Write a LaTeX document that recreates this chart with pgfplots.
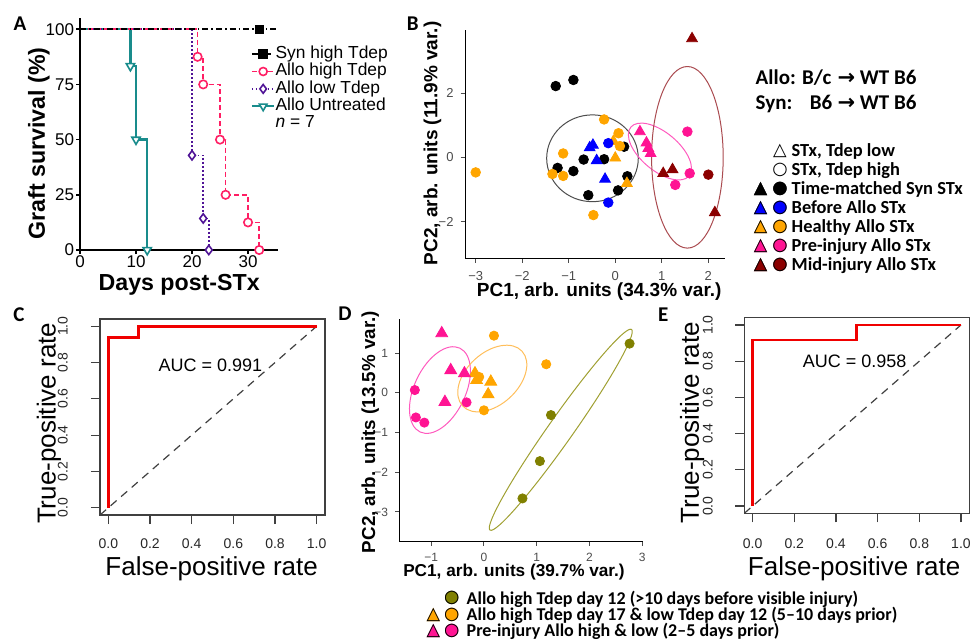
\documentclass[border=0pt]{standalone}
\usepackage{pgfplots}
\pgfplotsset{compat=1.18}
\usepackage{fontspec}
\setmainfont{Liberation Sans}
\newfontfamily\carlito{Carlito}
\newfontfamily\dejavu{DejaVu Sans}
\newcommand\fs[1]{\fontsize{#1}{#1}\selectfont}
\definecolor{apink}{RGB}{255,30,100}
\definecolor{apurp}{RGB}{80,20,150}
\definecolor{ateal}{RGB}{25,140,140}
\definecolor{bblue}{RGB}{0,0,255}
\definecolor{borange}{RGB}{255,165,0}
\definecolor{bpink}{RGB}{255,20,147}
\definecolor{bdred}{RGB}{139,0,0}
\definecolor{egrey}{RGB}{77,77,77}
\definecolor{epink}{RGB}{255,90,190}
\definecolor{edred}{RGB}{170,75,80}
\definecolor{dolive}{RGB}{128,128,0}
\definecolor{eolive}{RGB}{160,160,50}
\definecolor{eorange}{RGB}{255,190,90}
\definecolor{rocred}{RGB}{240,0,0}
\newcommand\tri[1]{\makebox[0pt]{\textcolor{#1}{▲}}\makebox[0pt]{△}}
\newcommand\cir[1]{\makebox[0pt]{\textcolor{#1}{●}}\makebox[0pt]{○}}
\pgfplotsset{
  bc/.style={only marks, mark=*, mark size=2.4pt, color=#1},
  bt/.style={only marks, mark=triangle*, mark size=3.1pt, color=#1},
  dc/.style={only marks, mark=*, mark size=2.3pt, color=#1},
  dt/.style={only marks, mark=triangle*, mark size=3.4pt, color=#1},
}
\begin{document}
\begin{tikzpicture}
\path[use as bounding box] (0,0) rectangle (485pt,-321.5pt);

% ---------------- Panel A ----------------
\begin{axis}[
  at={(40pt,-125pt)}, anchor=south west, scale only axis,
  width=98.85pt, height=115.92pt,
  xmin=0, xmax=35.3, ymin=0, ymax=105,
  axis x line*=bottom, axis y line*=left,
  axis line style={-, black, line width=0.85pt},
  xtick={0,10,20,30}, xticklabels={0,10,20,30},
  ytick={0,25,50,75,100}, yticklabels={0,25,50,75,100},
  tick align=outside, major tick length=2pt,
  tick style={black, line width=0.85pt},
  tick label style={font=\fs{8.5}, inner sep=0.8pt},
  clip=false,
  legend style={draw=none, fill=none, at={(0.8635,0.8825)}, anchor=north west,
    inner sep=0pt, outer sep=0pt, row sep=0pt, font=\fs{8.7},
    nodes={inner sep=0pt, text height=6.5pt, text depth=2.2pt},
    /tikz/every even column/.append style={column sep=3.4pt}},
  legend cell align=left,
  legend image code/.code={\draw[mark repeat=2,mark phase=2] plot coordinates {(0pt,0pt) (5.65pt,0pt) (11.3pt,0pt)};},
]
\addplot[ateal, line width=1.15pt, forget plot] coordinates {(0,100) (9,100) (9,83.33) (10,83.33) (10,50) (12,50) (12,0)};
\addplot[ateal, only marks, mark=triangle*, mark size=2.4pt, mark options={rotate=180, fill=white, line width=0.8pt}, forget plot] coordinates {(9,83.33) (10,50) (12,0)};
\addplot[apurp, line width=0.8pt, dash pattern=on 0.8pt off 1.2pt, forget plot] coordinates {(0,100) (20,100) (20,42.86) (22,42.86) (22,14.29) (23,14.29) (23,0)};
\addplot[apurp, only marks, mark=diamond*, mark size=2.3pt, mark options={fill=white, line width=0.8pt}, forget plot] coordinates {(20,42.86) (22,14.29) (23,0)};
\addplot[apink, line width=0.75pt, dash pattern=on 2.5pt off 1.5pt, forget plot] coordinates {(0,100) (21,100) (21,87.5) (22,87.5) (22,75) (25,75) (25,50) (26,50) (26,25) (30,25) (30,12.5) (32,12.5) (32,0)};
\addplot[apink, only marks, mark=*, mark size=2.1pt, mark options={fill=white, line width=0.8pt}, forget plot] coordinates {(21,87.5) (22,75) (25,50) (26,25) (30,12.5) (32,0)};
\addplot[black, line width=0.75pt, dash pattern=on 3pt off 1.5pt on 0.8pt off 1.5pt, forget plot] coordinates {(0,100) (35.3,100)};
\addplot[black, only marks, mark=square*, mark size=2pt, forget plot] coordinates {(32,100)};
\addlegendimage{black, line width=0.75pt, dash pattern=on 3pt off 1.5pt on 0.8pt off 1.5pt, mark=square*, mark size=2pt, mark options={solid}}
\addlegendentry{Syn high Tdep}
\addlegendimage{apink, line width=0.75pt, dash pattern=on 2.5pt off 1.5pt, mark=*, mark size=2pt, mark options={solid, fill=white, line width=0.8pt}}
\addlegendentry{Allo high Tdep}
\addlegendimage{apurp, line width=0.8pt, dash pattern=on 0.8pt off 1.2pt, mark=diamond*, mark size=2.2pt, mark options={solid, fill=white, line width=0.8pt}}
\addlegendentry{Allo low Tdep}
\addlegendimage{ateal, line width=1.15pt, mark=triangle*, mark size=2.2pt, mark options={solid, rotate=180, fill=white, line width=0.8pt}}
\addlegendentry{Allo Untreated}
\addlegendimage{empty legend}
\addlegendentry{\textit{n} = 7}
\end{axis}

% ---------------- Panel B ----------------
\begin{axis}[
  at={(232.5pt,-129.2pt)}, anchor=south west, scale only axis,
  width=129.8pt, height=114.25pt,
  xmin=-3.23, xmax=2.35, ymin=-3.15, ymax=3.97,
  axis x line*=bottom, axis y line*=left,
  axis line style={-, black, line width=0.5pt},
  xtick={-3,-2,-1,0,1,2}, xticklabels={−3,−2,−1,0,1,2},
  ytick={-2,0,2}, yticklabels={−2,0,2},
  tick align=outside, major tick length=2.2pt,
  tick style={black!70, line width=0.5pt},
  tick label style={font=\fs{6.5}, text=black!70},
  xticklabel style={yshift=-1pt},
  clip=false,
]
\addplot[bc=black] coordinates {(-1.28,2.22) (-0.90,2.41) (-1.24,-0.33) (-0.90,-0.43) (-0.68,-0.07) (-0.58,-1.18) (-0.24,-0.06) (0.06,-1.03) (0.26,-0.59) (0.19,0.33)};
\addplot[bc=borange] coordinates {(-3.0,-0.47) (-0.24,1.18) (-1.12,0.12) (-1.35,-0.52) (-1.12,-0.58) (-0.47,-1.80) (0.07,0.75) (0.10,0.35)};
\addplot[bt=borange] coordinates {(-0.04,0.50) (0.0,-0.02) (0.25,-0.81)};
\addplot[bc=bblue] coordinates {(-0.15,0.44) (-0.15,-1.41)};
\addplot[bt=bblue] coordinates {(-0.55,0.30) (-0.48,0.38) (-0.40,-0.10) (-0.22,-0.68)};
\addplot[bc=bpink] coordinates {(1.55,0.80) (1.60,-0.50) (1.29,-0.86)};
\addplot[bt=bpink] coordinates {(0.53,0.80) (0.67,0.45) (0.71,0.28) (0.76,0.12)};
\addplot[bc=bdred] coordinates {(2.0,-0.54)};
\addplot[bt=bdred] coordinates {(1.65,3.70) (1.03,-0.50) (1.23,-0.38) (2.14,-1.72)};
\draw[egrey, line width=0.5pt] (axis cs:-0.49,-0.03) ellipse [x radius=22.9pt, y radius=21.7pt];
\draw[epink, line width=0.5pt] (axis cs:0.96,0.18) ellipse [x radius=19pt, y radius=9.5pt, rotate=-40];
\draw[edred, line width=0.5pt] (axis cs:1.55,0.0) ellipse [x radius=17.9pt, y radius=45.4pt];
\end{axis}

% ---------------- Panel C ----------------
\begin{axis}[
  at={(50pt,-257.5pt)}, anchor=south west, scale only axis,
  width=112.5pt, height=98pt,
  xmin=-0.04, xmax=1.04, ymin=-0.04, ymax=1.04,
  axis line style={black!75, line width=0.6pt},
  xtick={0,0.2,0.4,0.6,0.8,1}, xticklabels={0.0,0.2,0.4,0.6,0.8,1.0},
  ytick={0,0.2,0.4,0.6,0.8,1}, yticklabels={0.0,0.2,0.4,0.6,0.8,1.0},
  xtick pos=left, ytick pos=left,
  tick align=outside, major tick length=4.5pt,
  tick style={black!75, line width=0.6pt},
  tick label style={font=\fs{7}, text=black!85},
  xticklabel style={anchor=center, yshift=-9.6pt},
  yticklabel style={anchor=center, xshift=-14.15pt, rotate=90},
  clip=false,
]
\addplot[black!75, line width=0.6pt, dash pattern=on 4pt off 3pt] coordinates {(-0.04,-0.04) (1,1)};
\addplot[rocred, line width=1.4pt] coordinates {(0,0) (0,0.9375) (0.143,0.9375) (0.143,1) (1,1)};
\node[font=\fs{9}] at (axis cs:0.49,0.786) {AUC = 0.991};
\end{axis}

% ---------------- Panel D ----------------
\begin{axis}[
  at={(199.5pt,-270.85pt)}, anchor=south west, scale only axis,
  width=122.15pt, height=111.35pt,
  xmin=-1.61, xmax=3.02, ymin=-3.75, ymax=1.86,
  axis x line*=bottom, axis y line*=left,
  axis line style={-, black, line width=0.5pt},
  xtick={-1,0,1,2,3}, xticklabels={−1,0,1,2,3},
  ytick={-3,-2,-1,0,1}, yticklabels={−3,−2,−1,0,1},
  tick align=outside, major tick length=2pt,
  tick style={black!70, line width=0.5pt},
  tick label style={font=\fs{6}, text=black!70},
  clip=false,
]
\addplot[dc=dolive] coordinates {(2.76,1.24) (1.27,-0.56) (1.06,-1.72) (0.73,-2.66)};
\addplot[dc=borange] coordinates {(0.19,1.44) (1.18,0.72) (-0.09,0.40) (0.0,-0.44)};
\addplot[dt=borange] coordinates {(-0.17,0.49) (-0.14,0.32) (0.13,0.28) (0.08,-0.04)};
\addplot[dc=bpink] coordinates {(-1.31,0.07) (-1.29,-0.62) (-1.13,-0.75) (-0.33,-0.24)};
\addplot[dt=bpink] coordinates {(-0.80,1.50) (-0.63,0.57) (-0.37,0.49) (-0.74,-0.23)};
\draw[epink, line width=0.5pt] (axis cs:-0.834,0.07) ellipse [x radius=23.2pt, y radius=12.8pt, rotate=64.7];
\draw[eorange, line width=0.5pt] (axis cs:0.158,0.36) ellipse [x radius=20.2pt, y radius=12.95pt, rotate=42.6];
\draw[eolive, line width=0.5pt] (axis cs:1.456,-0.93) ellipse [x radius=61.4pt, y radius=6.2pt, rotate=54.8];
\end{axis}

% ---------------- Panel E ----------------
\begin{axis}[
  at={(372.15pt,-256.65pt)}, anchor=south west, scale only axis,
  width=112.5pt, height=97.8pt,
  xmin=-0.04, xmax=1.04, ymin=-0.04, ymax=1.04,
  axis line style={black!75, line width=0.6pt},
  xtick={0,0.2,0.4,0.6,0.8,1}, xticklabels={0.0,0.2,0.4,0.6,0.8,1.0},
  ytick={0,0.2,0.4,0.6,0.8,1}, yticklabels={0.0,0.2,0.4,0.6,0.8,1.0},
  xtick pos=left, ytick pos=left,
  tick align=outside, major tick length=4.5pt,
  tick style={black!75, line width=0.6pt},
  tick label style={font=\fs{7}, text=black!85},
  xticklabel style={anchor=center, yshift=-10.5pt},
  yticklabel style={anchor=center, xshift=-13.8pt, rotate=90},
  clip=false,
]
\addplot[black!75, line width=0.6pt, dash pattern=on 4pt off 3pt] coordinates {(-0.04,-0.04) (1,1)};
\addplot[rocred, line width=1.4pt] coordinates {(0,0) (0,0.9167) (0.5,0.9167) (0.5,1) (1,1)};
\node[font=\fs{9}] at (axis cs:0.49,0.80) {AUC = 0.958};
\end{axis}

% ---------------- Labels ----------------
\begin{scope}[every node/.style={inner sep=0pt, outer sep=0pt}]
% panel letters
\node[font=\carlito\bfseries\fs{10.5}] at (10pt,-11.75pt) {A};
\node[font=\carlito\bfseries\fs{10.5}] at (206.35pt,-11.65pt) {B};
\node[font=\carlito\bfseries\fs{10.5}] at (9.5pt,-157.5pt) {C};
\node[font=\carlito\bfseries\fs{10.5}] at (172.5pt,-156.65pt) {D};
\node[font=\carlito\bfseries\fs{10.5}] at (331.65pt,-157.5pt) {E};
% A labels
\node[font=\bfseries\fs{11.6}, anchor=base, rotate=90] at (22.5pt,-71.65pt) {Graft survival (\%)};
\node[font=\bfseries\fs{11.6}, anchor=base] at (89.6pt,-145pt) {Days post-STx};
% B labels
\node[font=\bfseries\fs{9.5}, anchor=base] at (299.6pt,-148pt) {PC1, arb. units (34.3\% var.)};
\node[font=\bfseries\fs{9.5}, anchor=base, rotate=90] at (218.65pt,-71.65pt) {PC2, arb. units (11.9\% var.)};
% B legend header
\node[font=\carlito\bfseries\fs{10.5}, anchor=base west] at (377.85pt,-42.4pt) {Allo: B/c};
\node[font=\carlito\bfseries\fs{10.5}, anchor=base west] at (377.85pt,-54.85pt) {Syn:};
\node[font=\carlito\bfseries\fs{10.5}, anchor=base east] at (416.15pt,-54.85pt) {B6};
\node[font=\carlito\bfseries\fs{10.5}, anchor=base west] at (418.75pt,-42.4pt) {{\dejavu\bfseries →} WT B6};
\node[font=\carlito\bfseries\fs{10.5}, anchor=base west] at (418.75pt,-54.85pt) {{\dejavu\bfseries →} WT B6};
% B legend rows
\begin{scope}[every node/.append style={font=\carlito\bfseries\fs{9.2}, anchor=base west}]
\node at (395.85pt,-78.4pt) {STx, Tdep low};
\node at (395.85pt,-87.9pt) {STx, Tdep high};
\node at (395.85pt,-97.4pt) {Time-matched Syn STx};
\node at (395.85pt,-106.75pt) {Before Allo STx};
\node at (395.85pt,-116.25pt) {Healthy Allo STx};
\node at (395.85pt,-125.75pt) {Pre-injury Allo STx};
\node at (395.85pt,-135.4pt) {Mid-injury Allo STx};
\end{scope}
\begin{scope}[every node/.append style={font=\dejavu\fs{8.8}}]
\node at (390pt,-75.5pt) {\tri{white}};
\node at (390pt,-85pt) {\cir{white}};
\node at (380.35pt,-94.5pt) {\tri{black}};
\node at (390pt,-94.5pt) {\cir{black}};
\node at (380.35pt,-103.85pt) {\tri{bblue}};
\node at (390pt,-103.85pt) {\cir{bblue}};
\node at (380.35pt,-113.35pt) {\tri{borange}};
\node at (390pt,-113.35pt) {\cir{borange}};
\node at (380.35pt,-122.85pt) {\tri{bpink}};
\node at (390pt,-122.85pt) {\cir{bpink}};
\node at (380.35pt,-132.5pt) {\tri{bdred}};
\node at (390pt,-132.5pt) {\cir{bdred}};
\end{scope}
% C labels
\node[font=\fs{13}, rotate=90] at (24.4pt,-211.65pt) {True-positive rate};
\node[font=\fs{13}] at (105.85pt,-284.15pt) {False-positive rate};
% D labels
\node[font=\bfseries\fs{8.6}, anchor=base] at (257pt,-288.35pt) {PC1, arb. units (39.7\% var.)};
\node[font=\bfseries\fs{9.4}, anchor=base, rotate=90] at (187.5pt,-216pt) {PC2, arb. units (13.5\% var.)};
% D legend
\begin{scope}[every node/.append style={font=\carlito\bfseries\fs{9}, anchor=base west}]
\node at (233.35pt,-302.05pt) {Allo high Tdep day 12 (>10 days before visible injury)};
\node at (233.35pt,-310.4pt) {Allo high Tdep day 17 \& low Tdep day 12 (5–10 days prior)};
\node at (233.35pt,-318.4pt) {Pre-injury Allo high \& low (2–5 days prior)};
\end{scope}
\begin{scope}[every node/.append style={font=\dejavu\fs{8.8}}]
\node at (225.85pt,-299.15pt) {\cir{dolive}};
\node at (216.65pt,-307.5pt) {\tri{borange}};
\node at (225.85pt,-307.5pt) {\cir{borange}};
\node at (216.65pt,-315.5pt) {\tri{bpink}};
\node at (225.85pt,-315.5pt) {\cir{bpink}};
\end{scope}
% E labels
\node[font=\fs{13}, rotate=90] at (346.1pt,-211.25pt) {True-positive rate};
\node[font=\fs{13}] at (427.1pt,-284.15pt) {False-positive rate};
\end{scope}
\end{tikzpicture}
\end{document}
